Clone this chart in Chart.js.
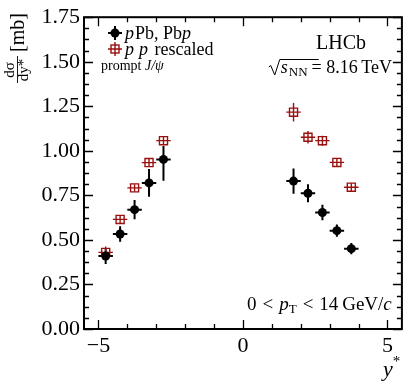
<!DOCTYPE html>
<html>
<head>
<meta charset="utf-8">
<script src="https://cdn.jsdelivr.net/npm/chart.js@4"></script>
<style>
  html, body { margin: 0; padding: 0; background: #fff; }
</style>
</head>
<body>
<canvas id="chart" width="409" height="384"></canvas>
<script>
(function(window, undefined){

  // y* bin centres and half widths
  var rapidity = [-4.75, -4.25, -3.75, -3.25, -2.75, 1.75, 2.25, 2.75, 3.25, 3.75];
  var binHalfWidth = [0.25, 0.25, 0.25, 0.25, 0.25, 0.25, 0.25, 0.25, 0.25, 0.25];

  // pPb, Pbp cross-section [mb]
  var pPbValues  = [0.41, 0.533, 0.67, 0.82, 0.952, 0.83, 0.762, 0.654, 0.552, 0.451];
  var pPbErrLow  = [0.045, 0.044, 0.054, 0.078, 0.12, 0.071, 0.05, 0.043, 0.034, 0.032];
  var pPbErrHigh = [0.045, 0.044, 0.054, 0.078, 0.075, 0.071, 0.05, 0.043, 0.034, 0.032];

  // pp rescaled [mb]
  var ppValues = [0.43, 0.615, 0.792, 0.934, 1.057, 1.217, 1.076, 1.057, 0.935, 0.796];
  var ppErr    = [0.033, 0.02, 0.02, 0.02, 0.022, 0.052, 0.035, 0.028, 0.022, 0.022];

  var xTickValues = [-5, 0, 5];
  var xMinorTicks = [-5, -4, -3, -2, -1, 0, 1, 2, 3, 4, 5];
  var yTickValues = [0, 0.25, 0.5, 0.75, 1.0, 1.25, 1.5, 1.75];

  var SERIF = '"Liberation Serif", "DejaVu Serif", serif';
  var RED = '#9a0f0f';

  function font(size, italic) {
    return (italic ? 'italic ' : '') + size + 'px ' + SERIF;
  }

  // draw a run of text pieces, each with its own font and baseline shift
  function drawRich(ctx, parts, x, y, align) {
    var total = 0;
    parts.forEach(function(p){ ctx.font = p.f; total += ctx.measureText(p.t).width + (p.gap || 0); });
    var cx = align === 'right' ? x - total : x;
    ctx.textAlign = 'left';
    ctx.textBaseline = 'alphabetic';
    parts.forEach(function(p){
      ctx.font = p.f;
      ctx.fillText(p.t, cx, y + (p.dy || 0));
      cx += ctx.measureText(p.t).width + (p.gap || 0);
    });
    return total;
  }

  function toPoints(xs, ys) {
    return xs.map(function(x, i){ return {x: x, y: ys[i]}; });
  }

  var errorBars = {
    id: 'errorBars',
    beforeDatasetsDraw: function(chart) {
      var ctx = chart.ctx, xs = chart.scales.x, ys = chart.scales.y;
      chart.data.datasets.forEach(function(ds){
        ctx.save();
        ctx.strokeStyle = ds.barColor;
        ctx.lineWidth = ds.barWidth;
        ds.data.forEach(function(pt, i){
          var px = xs.getPixelForValue(pt.x), py = ys.getPixelForValue(pt.y);
          ctx.beginPath();
          ctx.moveTo(xs.getPixelForValue(pt.x - ds.xErr[i]), py);
          ctx.lineTo(xs.getPixelForValue(pt.x + ds.xErr[i]), py);
          ctx.moveTo(px, ys.getPixelForValue(pt.y - ds.yErrLow[i]));
          ctx.lineTo(px, ys.getPixelForValue(pt.y + ds.yErrHigh[i]));
          ctx.stroke();
        });
        ctx.restore();
      });
    }
  };

  var frameAndText = {
    id: 'frameAndText',
    afterDraw: function(chart) {
      var ctx = chart.ctx, a = chart.chartArea, xs = chart.scales.x, ys = chart.scales.y;
      ctx.save();
      ctx.strokeStyle = '#000';
      ctx.fillStyle = '#000';

      // ticks pointing inwards on all four sides
      ctx.lineWidth = 1.3;
      ctx.beginPath();
      xMinorTicks.forEach(function(v){
        var len = xTickValues.indexOf(v) >= 0 ? 9 : 5;
        var px = Math.round(xs.getPixelForValue(v)) + 0.5;
        ctx.moveTo(px, a.bottom); ctx.lineTo(px, a.bottom - len);
        ctx.moveTo(px, a.top); ctx.lineTo(px, a.top + len);
      });
      for (var v = 0; v <= 1.75 + 1e-9; v += 0.0625) {
        var major = Math.abs(v / 0.25 - Math.round(v / 0.25)) < 1e-6;
        var len = major ? 9 : 5;
        var py = Math.round(ys.getPixelForValue(v)) + 0.5;
        ctx.moveTo(a.left, py); ctx.lineTo(a.left + len, py);
        ctx.moveTo(a.right, py); ctx.lineTo(a.right - len, py);
      }
      ctx.stroke();

      ctx.lineWidth = 2;
      ctx.strokeRect(a.left, a.top, a.right - a.left, a.bottom - a.top);

      // legend
      var lx = 115;
      [[33, 'black'], [49, 'red']].forEach(function(row){
        var y = row[0];
        ctx.save();
        if (row[1] === 'black') {
          ctx.strokeStyle = '#000'; ctx.lineWidth = 2;
          ctx.beginPath();
          ctx.moveTo(lx - 7, y); ctx.lineTo(lx + 7, y);
          ctx.moveTo(lx, y - 7); ctx.lineTo(lx, y + 7);
          ctx.stroke();
          ctx.beginPath(); ctx.arc(lx, y, 4.5, 0, Math.PI * 2); ctx.fill();
        } else {
          ctx.strokeStyle = RED; ctx.lineWidth = 1.4;
          ctx.beginPath();
          ctx.moveTo(lx - 7, y); ctx.lineTo(lx + 7, y);
          ctx.moveTo(lx, y - 7); ctx.lineTo(lx, y + 7);
          ctx.stroke();
          ctx.strokeRect(lx - 4, y - 4, 8, 8);
        }
        ctx.restore();
      });
      drawRich(ctx, [
        {t: 'p', f: font(18, true), gap: 1},
        {t: 'Pb, Pb', f: font(18)},
        {t: 'p', f: font(18, true)}
      ], 125, 39);
      drawRich(ctx, [
        {t: 'p', f: font(18, true), gap: 5},
        {t: 'p', f: font(18, true), gap: 2},
        {t: ' rescaled', f: font(18)}
      ], 125, 55);
      drawRich(ctx, [
        {t: 'prompt ', f: font(14)},
        {t: 'J/\u03c8', f: font(14, true)}
      ], 101, 70);

      // LHCb label and energy
      ctx.font = font(20);
      ctx.fillText('LHCb', 316, 49);
      var w = drawRich(ctx, [
        {t: 's', f: font(18, true), gap: 1},
        {t: 'NN', f: font(13), dy: 3, gap: 4},
        {t: '= 8.16\u2009TeV', f: font(18)}
      ], 392, 73, 'right');
      var sx = 392 - w;
      ctx.lineWidth = 1;
      ctx.beginPath();
      ctx.moveTo(sx - 12, 67); ctx.lineTo(sx - 10, 65.5);
      ctx.lineTo(sx - 6, 75); ctx.lineTo(sx - 1, 59.5);
      ctx.lineTo(sx + 38, 59.5);
      ctx.stroke();

      drawRich(ctx, [
        {t: '0', f: font(19), gap: 6},
        {t: '<', f: font(19), gap: 6},
        {t: 'p', f: font(19, true)},
        {t: 'T', f: font(13), dy: 3, gap: 6},
        {t: '<', f: font(19), gap: 6},
        {t: '14\u2009GeV/', f: font(19)},
        {t: 'c', f: font(19, true)}
      ], 247, 310);

      // axis titles
      drawRich(ctx, [
        {t: 'y', f: font(22, true)},
        {t: '*', f: font(15), dy: -10}
      ], 383, 376);

      ctx.save();
      ctx.translate(17, 83);
      ctx.rotate(-Math.PI / 2);
      ctx.textAlign = 'center';
      ctx.font = font(15);
      ctx.fillText('d\u03c3', 13, -3);
      ctx.fillText('dy*', 13, 11);
      ctx.lineWidth = 0.9;
      ctx.beginPath(); ctx.moveTo(0, 0.5); ctx.lineTo(27, 0.5); ctx.stroke();
      ctx.textAlign = 'left';
      ctx.font = font(20);
      ctx.fillText('[mb]', 31, 7);
      ctx.restore();

      ctx.restore();
    }
  };

  var data = {
    datasets: [{
      label: 'pPb, Pbp',
      data: toPoints(rapidity, pPbValues),
      xErr: binHalfWidth,
      yErrLow: pPbErrLow,
      yErrHigh: pPbErrHigh,
      barColor: '#000',
      barWidth: 2,
      pointStyle: 'circle',
      pointRadius: 4.5,
      backgroundColor: '#000',
      borderWidth: 0
    }, {
      label: 'pp rescaled',
      data: toPoints(rapidity, ppValues),
      xErr: binHalfWidth,
      yErrLow: ppErr,
      yErrHigh: ppErr,
      barColor: RED,
      barWidth: 1.4,
      pointStyle: 'rect',
      pointRadius: 5.7,
      backgroundColor: 'rgba(0,0,0,0)',
      borderColor: RED,
      borderWidth: 1.4
    }]
  };

  var options = {
    responsive: false,
    devicePixelRatio: 1,
    animation: false,
    layout: { padding: { top: 12, right: 5, left: 0, bottom: 0 } },
    plugins: { legend: { display: false }, tooltip: { enabled: false } },
    scales: {
      x: {
        type: 'linear', min: -5.5, max: 5.5,
        afterBuildTicks: function(s){ s.ticks = xTickValues.map(function(v){ return {value: v}; }); },
        afterFit: function(s){ s.height = 55; },
        grid: { display: false, drawTicks: false },
        border: { display: false },
        ticks: {
          padding: 4, color: '#000', font: { family: SERIF, size: 22 },
          callback: function(v){ return v < 0 ? '\u2212' + Math.abs(v) : String(v); }
        }
      },
      y: {
        type: 'linear', min: 0, max: 1.75,
        afterBuildTicks: function(s){ s.ticks = yTickValues.map(function(v){ return {value: v}; }); },
        afterFit: function(s){ s.width = 84; },
        grid: { display: false, drawTicks: false },
        border: { display: false },
        ticks: {
          padding: 4, color: '#000', font: { family: SERIF, size: 22 },
          callback: function(v){ return v.toFixed(2); }
        }
      }
    }
  };

  new Chart(document.getElementById('chart'), {
    type: 'scatter', data: data, options: options, plugins: [errorBars, frameAndText]
  });

})(window);
</script>
</body>
</html>
